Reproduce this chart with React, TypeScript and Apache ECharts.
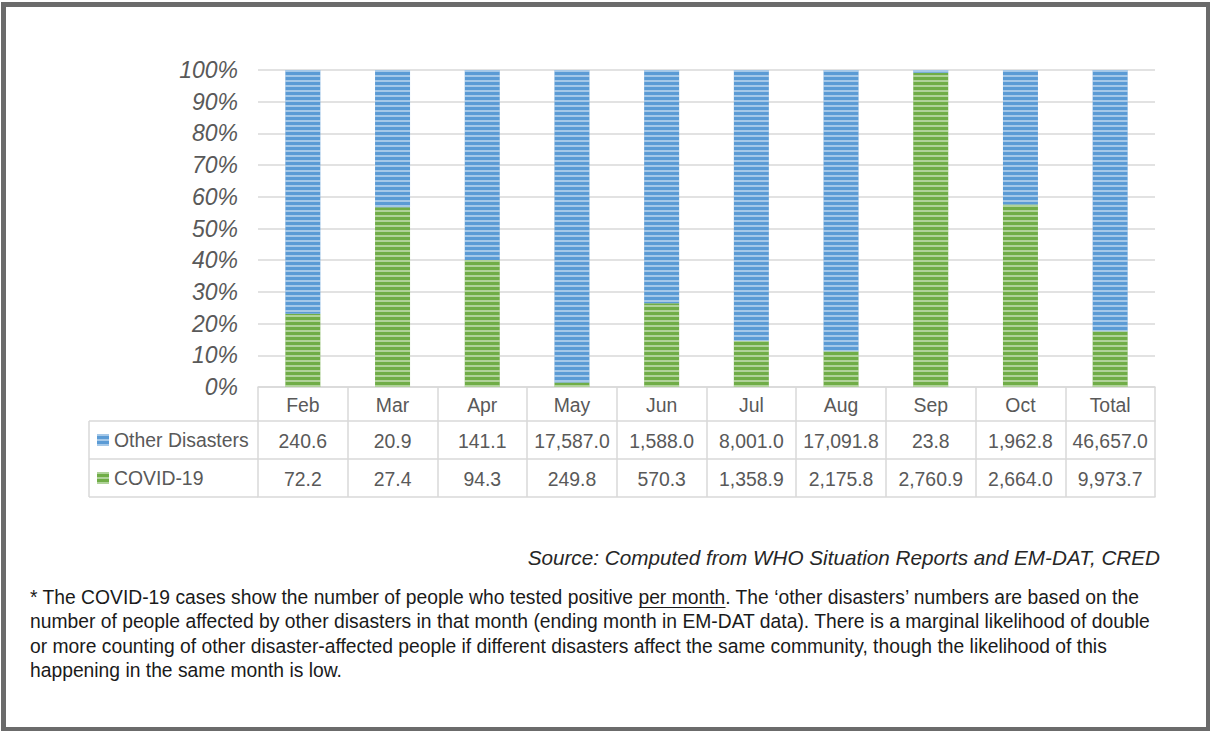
import { useEffect, useRef } from 'react';
import * as echarts from 'echarts';

const months = ['Feb', 'Mar', 'Apr', 'May', 'Jun', 'Jul', 'Aug', 'Sep', 'Oct', 'Total'];
const otherDisasters = [240.6, 20.9, 141.1, 17587.0, 1588.0, 8001.0, 17091.8, 23.8, 1962.8, 46657.0];
const covid19 = [72.2, 27.4, 94.3, 249.8, 570.3, 1358.9, 2175.8, 2760.9, 2664.0, 9973.7];

const sourceText = 'Source: Computed from WHO Situation Reports and EM-DAT, CRED';
const noteLine1a = '* The COVID-19 cases show the number of people who tested positive ';
const noteLine1u = 'per month';
const noteLine1b = '. The \u2018other disasters\u2019 numbers are based on the';
const noteLines = [
  'number of people affected by other disasters in that month (ending month in EM-DAT data). There is a marginal likelihood of double',
  'or more counting of other disaster-affected people if different disasters affect the same community, though the likelihood of this',
  'happening in the same month is low.',
];

const BLUE = '#5b9bd5';
const GREEN = '#70ad47';
const GRID = '#d9d9d9';
const TXT = '#595959';
const FONT = '"Liberation Sans", Arial, sans-serif';

const fmt = (v: number) =>
  v.toLocaleString('en-US', { minimumFractionDigits: 1, maximumFractionDigits: 1 });

export default function App() {
  const ref = useRef<HTMLDivElement>(null);
  useEffect(() => {
    const chart = echarts.init(ref.current!, null, { renderer: 'svg' });

    const covidShare = covid19.map((c, i) => c / (c + otherDisasters[i]));
    const otherShare = otherDisasters.map((o, i) => o / (o + covid19[i]));

    const NOTE_SIZE = 19.3;
    const ctx = document.createElement('canvas').getContext('2d')!;
    ctx.font = NOTE_SIZE + 'px "Liberation Sans"';
    const noteX = 30;
    const uStart = noteX + ctx.measureText(noteLine1a).width;
    const uWidth = ctx.measureText(noteLine1u).width;

    const stripe = (c: string) => ({
      symbol: 'rect',
      symbolSize: 1,
      dashArrayX: [1, 0],
      dashArrayY: [2, 3],
      rotation: 0,
      color: 'rgba(255,255,255,0.45)',
      backgroundColor: c,
    });

    const tableLine = { show: true, lineStyle: { color: GRID, width: 1.5 } };
    const gridTop = 70;
    const gridH = 317;
    const rowY1 = gridTop + gridH + 34;
    const rowY2 = rowY1 + 38;
    const rowY3 = rowY2 + 38;

    const noteStyle = { fontSize: NOTE_SIZE, fontFamily: FONT, fill: '#1a1a1a' };

    const option: any = {
      animation: false,
      aria: { enabled: true, decal: { show: true } },
      grid: { left: 258, right: 55, top: gridTop, height: gridH, containLabel: false },
      legend: {
        orient: 'vertical',
        left: 97,
        top: rowY1 + 8,
        padding: 0,
        itemGap: 16,
        itemWidth: 12,
        itemHeight: 12,
        icon: 'rect',
        selectedMode: false,
        data: ['Other Disasters', 'COVID-19'],
        textStyle: { fontSize: 19.4, lineHeight: 22, color: TXT, fontFamily: FONT },
      },
      xAxis: [
        {
          type: 'category',
          data: months,
          position: 'bottom',
          axisLine: tableLine,
          axisTick: { show: true, length: 34, interval: 0, lineStyle: { color: GRID, width: 1.5 } },
          axisLabel: { interval: 0, margin: 8, fontSize: 19.4, color: TXT, fontFamily: FONT },
        },
        {
          type: 'category',
          data: months,
          position: 'bottom',
          offset: 34,
          axisLine: tableLine,
          axisTick: { show: true, length: 38, interval: 0, lineStyle: { color: GRID, width: 1.5 } },
          axisLabel: {
            interval: 0,
            margin: 10,
            fontSize: 19.4,
            color: TXT,
            fontFamily: FONT,
            formatter: (_v: string, i: number) => fmt(otherDisasters[i]),
          },
        },
        {
          type: 'category',
          data: months,
          position: 'bottom',
          offset: 72,
          axisLine: tableLine,
          axisTick: { show: true, length: 38, interval: 0, lineStyle: { color: GRID, width: 1.5 } },
          axisLabel: {
            interval: 0,
            margin: 10,
            fontSize: 19.4,
            color: TXT,
            fontFamily: FONT,
            formatter: (_v: string, i: number) => fmt(covid19[i]),
          },
        },
        {
          type: 'category',
          data: months,
          position: 'bottom',
          offset: 110,
          axisLine: tableLine,
          axisTick: { show: false },
          axisLabel: { show: false },
        },
      ],
      yAxis: {
        type: 'value',
        min: 0,
        max: 1,
        interval: 0.1,
        axisLine: { show: false },
        axisTick: { show: false },
        splitLine: { lineStyle: { color: GRID, width: 1.5 } },
        axisLabel: {
          margin: 20,
          fontSize: 23,
          fontStyle: 'italic',
          color: TXT,
          fontFamily: FONT,
          formatter: (v: number) => Math.round(v * 100) + '%',
        },
      },
      series: [
        {
          name: 'COVID-19',
          type: 'bar',
          stack: 'total',
          barWidth: '39%',
          data: covidShare,
          itemStyle: { color: GREEN, decal: stripe(GREEN) },
        },
        {
          name: 'Other Disasters',
          type: 'bar',
          stack: 'total',
          barWidth: '39%',
          data: otherShare,
          itemStyle: { color: BLUE, decal: stripe(BLUE) },
        },
      ],
      graphic: [
        {
          type: 'rect',
          shape: { x: 3.5, y: 4.5, width: 1205, height: 725 },
          style: { fill: 'none', stroke: '#6b6b6b', lineWidth: 5 },
          silent: true,
        },
        { type: 'line', shape: { x1: 89, y1: rowY1, x2: 258, y2: rowY1 }, style: { stroke: GRID, lineWidth: 1.5 } },
        { type: 'line', shape: { x1: 89, y1: rowY2, x2: 258, y2: rowY2 }, style: { stroke: GRID, lineWidth: 1.5 } },
        { type: 'line', shape: { x1: 89, y1: rowY3, x2: 258, y2: rowY3 }, style: { stroke: GRID, lineWidth: 1.5 } },
        { type: 'line', shape: { x1: 89, y1: rowY1, x2: 89, y2: rowY3 }, style: { stroke: GRID, lineWidth: 1.5 } },
        {
          type: 'text',
          x: 1160,
          y: 557,
          style: {
            text: sourceText,
            align: 'right',
            verticalAlign: 'middle',
            fontSize: 20.7,
            fontStyle: 'italic',
            fontFamily: FONT,
            fill: '#262626',
          },
        },
        {
          type: 'text',
          x: noteX,
          y: 597,
          style: { ...noteStyle, text: noteLine1a + noteLine1u + noteLine1b, verticalAlign: 'middle' },
        },
        {
          type: 'line',
          shape: { x1: uStart, y1: 607.5, x2: uStart + uWidth, y2: 607.5 },
          style: { stroke: '#1a1a1a', lineWidth: 1.2 },
        },
        ...noteLines.map((t, i) => ({
          type: 'text',
          x: noteX,
          y: 621.5 + i * 24.5,
          style: { ...noteStyle, text: t, verticalAlign: 'middle' },
        })),
      ],
    };

    chart.setOption(option);
    return () => chart.dispose();
  }, []);

  return (
    <div
      ref={ref}
      style={{ position: 'fixed', left: 0, top: 0, width: 1210, height: 731, background: '#fff' }}
    />
  );
}
